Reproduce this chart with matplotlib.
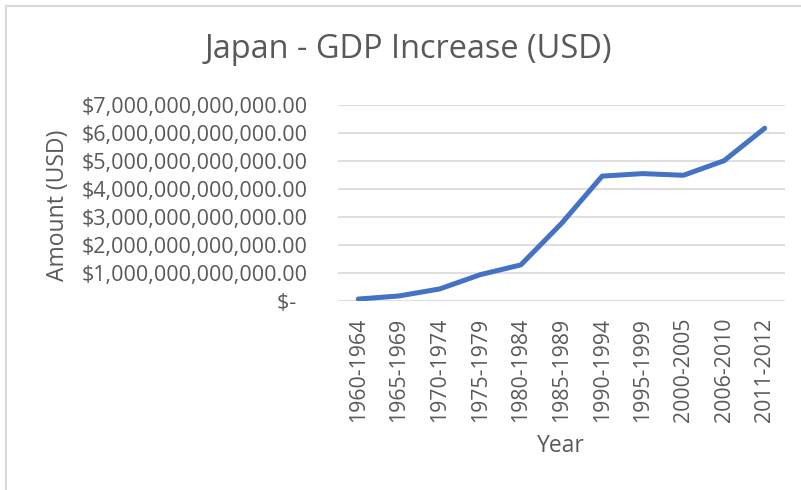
import matplotlib
matplotlib.use("Agg")
import matplotlib.pyplot as plt
from matplotlib.lines import Line2D

plt.rcParams['font.family'] = ['Open Sans', 'DejaVu Sans']

# GDP of Japan per period, in trillions of USD
periods = ['1960-1964', '1965-1969', '1970-1974', '1975-1979', '1980-1984',
           '1985-1989', '1990-1994', '1995-1999', '2000-2005', '2006-2010',
           '2011-2012']
gdp_trillions = [0.07, 0.18, 0.43, 0.94, 1.29, 2.77, 4.46, 4.55, 4.49, 5.01, 6.17]

y_ticks = [0, 1, 2, 3, 4, 5, 6, 7]
y_tick_labels = ['$-  '] + ['${:,.2f}'.format(v * 1e12) for v in y_ticks[1:]]

text_color = '#595959'
grid_color = '#D9D9D9'
line_color = '#4472C4'

fig = plt.figure(figsize=(8.01, 4.90), dpi=100)

# chart frame (left and top edges only)
fig.add_artist(Line2D([6 / 801, 6 / 801], [0, 1 - 6 / 490], transform=fig.transFigure,
                      color=grid_color, lw=1.5))
fig.add_artist(Line2D([6 / 801, 1], [1 - 6 / 490, 1 - 6 / 490], transform=fig.transFigure,
                      color=grid_color, lw=1.5))

ax = fig.add_axes([338 / 801, 1 - 301 / 490, (785 - 338) / 801, (301 - 105) / 490])

x = list(range(len(periods)))
ax.plot(x, gdp_trillions, color=line_color, lw=3.6, solid_capstyle='round',
        solid_joinstyle='round', zorder=3)

ax.set_xlim(-0.5, len(periods) - 0.5)
ax.set_ylim(0, 7)
ax.set_yticks(y_ticks)
ax.set_yticklabels(y_tick_labels)
ax.set_xticks(x)
ax.set_xticklabels(periods, rotation=90)

for s in ax.spines.values():
    s.set_visible(False)
ax.grid(axis='y', color=grid_color, lw=1.2)
ax.set_axisbelow(True)
ax.tick_params(axis='both', length=0, colors=text_color)
ax.tick_params(axis='y', pad=22, labelsize=15.5)
ax.tick_params(axis='x', pad=12, labelsize=15.3)

# axis titles and chart title
fig.text(561 / 801, 1 - 446 / 490, 'Year', ha='center', va='center',
         color=text_color, fontsize=16.5)
fig.text(58 / 801, 1 - 205 / 490, 'Amount (USD)', rotation=90, ha='center', va='center',
         color=text_color, fontsize=16.5)
fig.text(408 / 801, 1 - 50 / 490, 'Japan - GDP Increase (USD)', ha='center', va='center',
         color=text_color, fontsize=23.4)

fig.savefig('out.png', dpi=100)
